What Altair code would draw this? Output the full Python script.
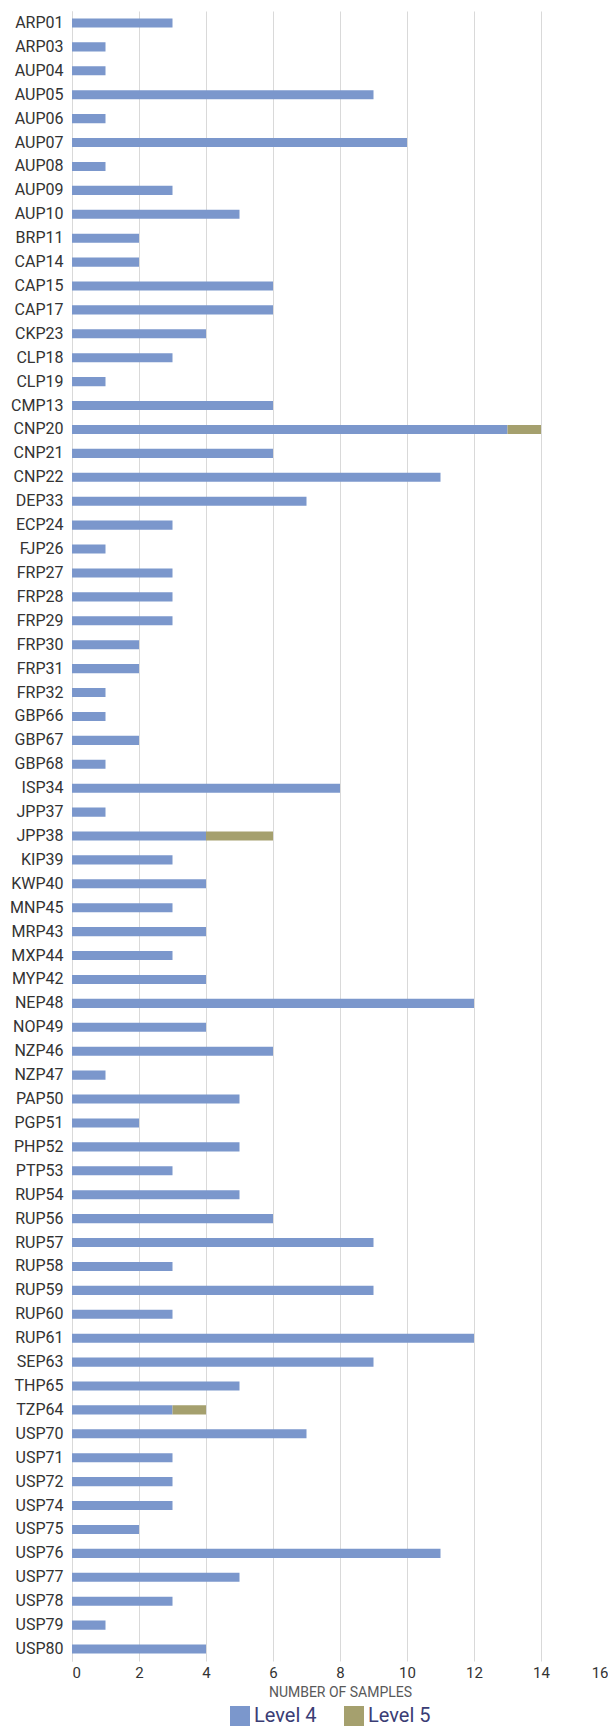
import altair as alt
import pandas as pd

categories = ["ARP01","ARP03","AUP04","AUP05","AUP06","AUP07","AUP08","AUP09","AUP10","BRP11",
              "CAP14","CAP15","CAP17","CKP23","CLP18","CLP19","CMP13","CNP20","CNP21","CNP22",
              "DEP33","ECP24","FJP26","FRP27","FRP28","FRP29","FRP30","FRP31","FRP32","GBP66",
              "GBP67","GBP68","ISP34","JPP37","JPP38","KIP39","KWP40","MNP45","MRP43","MXP44",
              "MYP42","NEP48","NOP49","NZP46","NZP47","PAP50","PGP51","PHP52","PTP53","RUP54",
              "RUP56","RUP57","RUP58","RUP59","RUP60","RUP61","SEP63","THP65","TZP64","USP70",
              "USP71","USP72","USP74","USP75","USP76","USP77","USP78","USP79","USP80"]
level4 = [3,1,1,9,1,10,1,3,5,2,
          2,6,6,4,3,1,6,13,6,11,
          7,3,1,3,3,3,2,2,1,1,
          2,1,8,1,4,3,4,3,4,3,
          4,12,4,6,1,5,2,5,3,5,
          6,9,3,9,3,12,9,5,3,7,
          3,3,3,2,11,5,3,1,4]
level5 = [0]*69
level5[categories.index("CNP20")] = 1
level5[categories.index("JPP38")] = 2
level5[categories.index("TZP64")] = 1

series = ["Level 4", "Level 5"]
colors = ["#7b97cc", "#a5a06e"]

rows = []
for c, a, b in zip(categories, level4, level5):
    rows.append({"site": c, "series": "Level 4", "value": a, "ord": 0})
    rows.append({"site": c, "series": "Level 5", "value": b, "ord": 1})
df = pd.DataFrame(rows)

font = "Roboto"

chart = alt.Chart(df).mark_bar().encode(
    y=alt.Y("site:N", sort=categories, title=None,
            scale=alt.Scale(paddingInner=0.62, paddingOuter=0.31),
            axis=alt.Axis(labelFont=font, labelFontSize=16, labelColor="#333333",
                          ticks=False, labelPadding=9, domainColor="#d9d9d9",
                          minExtent=64, maxExtent=64)),
    x=alt.X("value:Q", stack="zero", title="NUMBER OF SAMPLES",
            scale=alt.Scale(domain=[0, 16], nice=False),
            axis=alt.Axis(values=list(range(0, 17, 2)), domain=False, ticks=False,
                          labelFont=font, labelFontSize=15, labelColor="#333333",
                          labelPadding=4, gridColor="#d9d9d9",
                          titleFont=font, titleFontSize=14, titleFontWeight="normal",
                          titleColor="#595959", titlePadding=5)),
    color=alt.Color("series:N", scale=alt.Scale(domain=series, range=colors),
                    legend=alt.Legend(title=None, orient="none", direction="horizontal",
                                      legendX=158, legendY=1695,
                                      symbolType="square", symbolSize=400,
                                      symbolStrokeWidth=0, symbolOpacity=1,
                                      labelFont=font, labelFontSize=20,
                                      labelColor="#3a3d75", labelOffset=4,
                                      columnPadding=27)),
    order=alt.Order("ord:Q"),
).properties(
    width=536, height=1650,
    autosize=alt.AutoSizeParams(type="none"),
    padding={"left": 64, "top": 3, "right": 0, "bottom": 66},
).configure_view(stroke=None)

chart.save("out.html", embed_options={"renderer": "svg", "actions": False})
